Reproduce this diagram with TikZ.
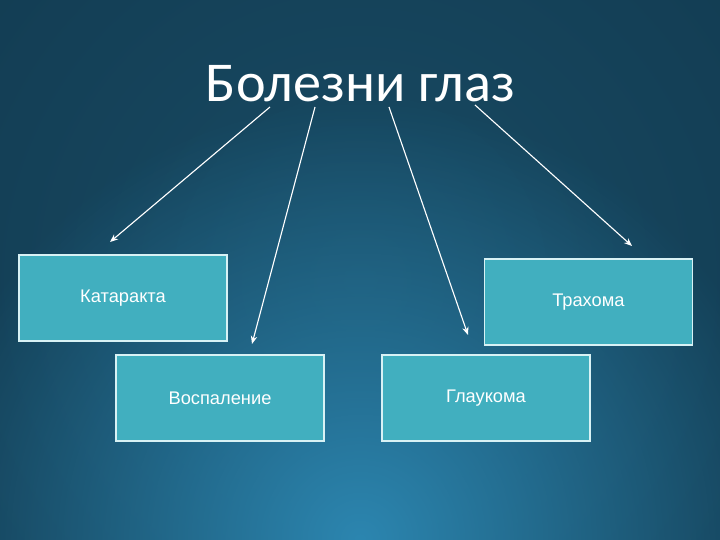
\documentclass[tikz,border=0pt]{standalone}
\usepackage{fontspec}
\setmainfont{Liberation Sans}
\newfontfamily\titlefont{Carlito}
\usetikzlibrary{arrows.meta, fadings}
\definecolor{bgdark}{HTML}{0C2A3D}
\definecolor{bgmid}{HTML}{184B64}
\definecolor{bglight}{HTML}{2C86B0}
\definecolor{boxfill}{HTML}{41AFBF}
\definecolor{boxline}{HTML}{D8F2F5}
\tikzfading[name=glowfade, inner color=transparent!0, outer color=transparent!100]
\tikzset{
  % Slide styles
  titletext/.style={text=white, font=\titlefont\fontsize{40}{46}\selectfont},
  disease/.style={rectangle, minimum width=5.2cm, minimum height=2.15cm, text centered, draw=boxline, line width=0.8pt, fill=boxfill, text=white, font=\fontsize{13}{15}\selectfont},
  arrow/.style={-{Stealth[length=2mm, width=1.6mm]}, draw=white, line width=0.8pt},
}

\begin{document}
\begin{tikzpicture}
    % Background
    \useasboundingbox (0,0) rectangle (18,13.5);
    \begin{scope}
      \clip (0,0) rectangle (18,13.5);
      \shade[inner color=bgmid, outer color=bgdark] (9,6.5) circle (28);
      \fill[bglight, path fading=glowfade] (9,0) circle (11);
    \end{scope}

    % Title
    \node[titletext, anchor=base] (title) at (9.0125,10.95) {Болезни глаз};

    % Diseases
    \node[disease] (katar) at (3.075,6.05) {Катаракта};
    \node[disease] (trach) at (14.71,5.95) {Трахома};
    \node[disease] (vospal) at (5.5,3.55) {Воспаление};
    \node[disease] (glauk) at (12.15,3.55) {Глаукома};

    % Arrow ends
    \coordinate (s1) at (6.75,10.825);
    \coordinate (s2) at (7.875,10.825);
    \coordinate (s3) at (9.725,10.825);
    \coordinate (s4) at (11.875,10.875);
    \coordinate (e1) at (2.75,7.45);
    \coordinate (e2) at (6.3,4.9);
    \coordinate (e3) at (11.7,5.125);
    \coordinate (e4) at (15.8,7.35);

    % Arrows
    \draw[arrow] (s1) -- (e1);
    \draw[arrow] (s2) -- (e2);
    \draw[arrow] (s3) -- (e3);
    \draw[arrow] (s4) -- (e4);
  \end{tikzpicture}
\end{document}
